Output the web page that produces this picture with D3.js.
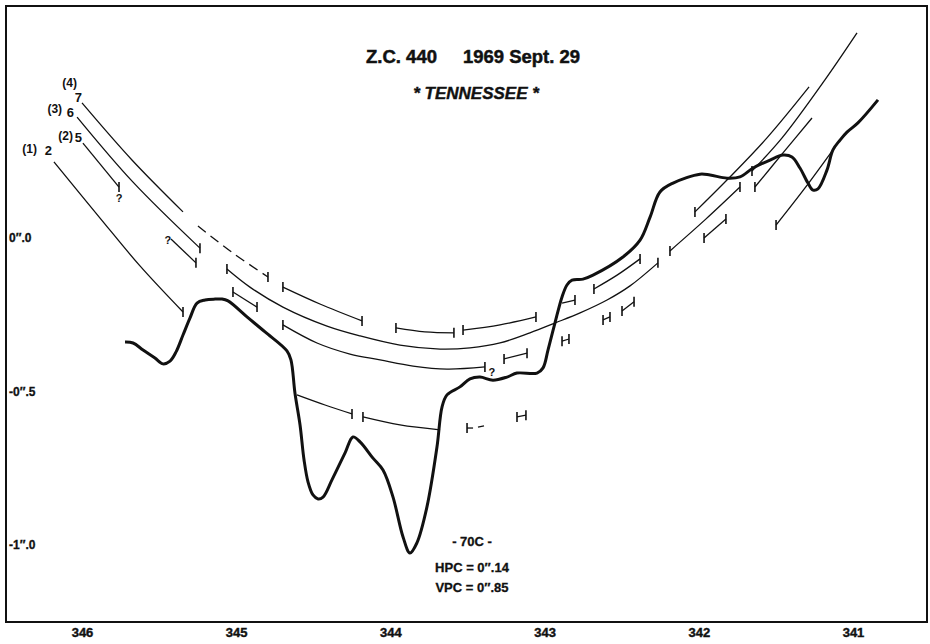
<!DOCTYPE html>
<html><head><meta charset="utf-8">
<script src="https://cdn.jsdelivr.net/npm/d3@7"></script>
<style>
html,body{margin:0;padding:0;background:#fff;}
svg{display:block;}
text{font-family:"Liberation Sans Narrow","Liberation Sans",Arial,sans-serif;font-weight:bold;fill:#111;}
</style></head><body>
<svg id="c" width="930" height="644"></svg>
<script>
// ---- data ----
const xTicks = [346, 345, 344, 343, 342, 341];
const yTicks = [0, -0.5, -1];
const yTickLabels = ["0″.0", "-0″.5", "-1″.0"];
const titleLine1a = "Z.C. 440";
const titleLine1b = "1969 Sept. 29";
const titleLine2 = "* TENNESSEE *";
const noteLines = ["- 70C -", "HPC = 0″.14", "VPC = 0″.85"];
const chordNumbers = ["2", "5", "6", "7"];
const observerLabels = ["(1)", "(2)", "(3)", "(4)"];

// lunar limb profile [watts angle, arcsec]
const limbProfile = [
[345.721,-0.339],[345.669,-0.342],[345.604,-0.365],[345.527,-0.391],[345.475,-0.410],[345.429,-0.401],[345.390,-0.371],[345.345,-0.316],[345.300,-0.261],[345.254,-0.212],[345.202,-0.202],[345.137,-0.199],[345.092,-0.199],[345.053,-0.205],[344.930,-0.257],[344.813,-0.306],[344.671,-0.368],[344.645,-0.397],[344.619,-0.505],[344.586,-0.609],[344.560,-0.723],[344.534,-0.795],[344.502,-0.837],[344.469,-0.850],[344.437,-0.844],[344.379,-0.788],[344.294,-0.700],[344.243,-0.648],[344.197,-0.664],[344.113,-0.717],[344.048,-0.756],[343.983,-0.844],[343.918,-0.974],[343.873,-1.026],[343.828,-0.993],[343.763,-0.876],[343.698,-0.681],[343.665,-0.550],[343.633,-0.511],[343.549,-0.485],[343.484,-0.459],[343.419,-0.453],[343.335,-0.463],[343.244,-0.453],[343.179,-0.440],[343.049,-0.440],[343.010,-0.423],[342.978,-0.365],[342.933,-0.277],[342.887,-0.192],[342.855,-0.153],[342.822,-0.137],[342.751,-0.134],[342.686,-0.121],[342.492,-0.062],[342.381,-0.007],[342.316,0.068],[342.252,0.150],[342.167,0.179],[341.992,0.208],[341.927,0.205],[341.817,0.195],[341.733,0.199],[341.648,0.228],[341.538,0.254],[341.454,0.270],[341.396,0.264],[341.344,0.228],[341.292,0.179],[341.259,0.156],[341.227,0.160],[341.169,0.221],[341.130,0.287],[341.084,0.319],[341.039,0.345],[340.968,0.375],[340.838,0.450]
];

// observer chords: pieces of [watts angle, arcsec]; t0/t1 = event tick at start/end
const chord1 = [
 {pts:[[346.182,0.248],[345.883,0.065],[345.624,-0.091],[345.345,-0.241]], t0:0, t1:1},
 {pts:[[344.606,-0.511],[344.424,-0.544],[344.249,-0.573]], t0:0, t1:1},
 {pts:[[344.178,-0.583],[343.938,-0.609],[343.678,-0.625]], t0:1, t1:0},
 {pts:[[343.503,-0.619],[343.464,-0.619]], t0:1, t1:0},
 {pts:[[343.432,-0.616],[343.393,-0.612]], t0:0, t1:0},
 {pts:[[343.179,-0.583],[343.121,-0.577]], t0:1, t1:1},
 {pts:[[341.499,0.042],[341.311,0.163],[341.130,0.287]], t0:1, t1:0}
];
const chord2 = [
 {pts:[[345.994,0.309],[345.760,0.166]], t0:0, t1:1},
 {pts:[[345.423,-0.003],[345.261,-0.081]], t0:0, t1:1},
 {pts:[[345.021,-0.176],[344.865,-0.225]], t0:1, t1:1},
 {pts:[[344.697,-0.283],[344.476,-0.342],[344.262,-0.378],[344.067,-0.397],[343.853,-0.417],[343.633,-0.427],[343.387,-0.420]], t0:1, t1:1},
 {pts:[[343.263,-0.394],[343.114,-0.375]], t0:1, t1:1},
 {pts:[[342.887,-0.336],[342.842,-0.329]], t0:1, t1:1},
 {pts:[[342.621,-0.267],[342.576,-0.257]], t0:1, t1:1},
 {pts:[[342.498,-0.238],[342.420,-0.208]], t0:1, t1:1},
 {pts:[[341.966,0.000],[341.824,0.062]], t0:1, t1:1},
 {pts:[[341.636,0.166],[341.454,0.277],[341.266,0.391]], t0:1, t1:0}
];
const chord3 = [
 {pts:[[346.032,0.394],[345.669,0.182],[345.235,-0.033]], t0:0, t1:1},
 {pts:[[345.060,-0.101],[344.911,-0.160],[344.697,-0.225],[344.411,-0.287],[344.197,-0.319],[343.938,-0.349],[343.678,-0.362],[343.484,-0.358],[343.289,-0.342],[343.095,-0.309],[342.933,-0.277],[342.770,-0.244],[342.595,-0.202],[342.446,-0.156],[342.265,-0.081]], t0:1, t1:1},
 {pts:[[342.187,-0.042],[341.960,0.059],[341.733,0.166]], t0:1, t1:1},
 {pts:[[341.655,0.218],[341.460,0.326],[341.182,0.515],[340.974,0.668]], t0:1, t1:0}
];
const chord4 = [
 {pts:[[346.000,0.440],[345.676,0.254],[345.345,0.085]], t0:0, t1:0},
 {pts:[[344.697,-0.160],[344.457,-0.215],[344.184,-0.270]], t0:1, t1:1},
 {pts:[[343.964,-0.293],[343.776,-0.306],[343.588,-0.309]], t0:1, t1:1},
 {pts:[[343.529,-0.300],[343.289,-0.283],[343.056,-0.257]], t0:1, t1:1},
 {pts:[[342.887,-0.212],[342.803,-0.202]], t0:0, t1:1},
 {pts:[[342.680,-0.166],[342.530,-0.121],[342.381,-0.068]], t0:1, t1:1},
 {pts:[[342.025,0.085],[341.811,0.192],[341.558,0.326],[341.285,0.492]], t0:1, t1:0}
];
const chord4Uncertain = [
 {pts:[[345.248,0.039],[345.021,-0.049],[344.794,-0.127]], t0:0, t1:1}
];
// doubtful events "?"
const queryMarks = [[345.760,0.166],[343.387,-0.420],[345.423,-0.003]];

// ---- drawing ----
const svg = d3.select("#c");
const x = d3.scaleLinear().domain([346, 341]).range([82, 853]);
const y = d3.scaleLinear().domain([0, -1]).range([238, 545]);

svg.append("rect").attr("x",6).attr("y",6).attr("width",921).attr("height",616)
  .attr("fill","none").attr("stroke","#111").attr("stroke-width",2);

// axes
const gx = svg.append("g").attr("transform","translate(0,622)")
  .call(d3.axisBottom(x).tickValues(xTicks).tickSize(0).tickPadding(6).tickFormat(d3.format("d")));
gx.select(".domain").remove();
gx.selectAll("text").style("font-size","13px").style("font-family",null)
  .attr("fill","#111").attr("stroke","#111").attr("stroke-width",0.4);

const gy = svg.append("g").attr("transform","translate(9,0)")
  .call(d3.axisRight(y).tickValues(yTicks).tickSize(0).tickPadding(0).tickFormat((d,i)=>yTickLabels[i]));
gy.select(".domain").remove();
gy.selectAll("text").style("font-size","12px").style("font-family",null)
  .attr("fill","#111").attr("stroke","#111").attr("stroke-width",0.3);

const line = d3.line().x(d=>x(d[0])).y(d=>y(d[1])).curve(d3.curveCatmullRom.alpha(0.5));

function drawChord(pieces, dashed){
  const g = svg.append("g").attr("fill","none").attr("stroke","#111").attr("stroke-width",1.3);
  pieces.forEach(p=>{
    g.append("path").attr("d", line(p.pts)).attr("stroke-dasharray", dashed ? "10,6" : null);
    const tk = (pt)=>g.append("line").attr("x1",x(pt[0])).attr("x2",x(pt[0]))
       .attr("y1",y(pt[1])-5).attr("y2",y(pt[1])+5).attr("stroke-width",1.6);
    if(p.t0) tk(p.pts[0]);
    if(p.t1) tk(p.pts[p.pts.length-1]);
  });
}
[chord1, chord2, chord3, chord4].forEach(c=>drawChord(c,false));
drawChord(chord4Uncertain, true);

svg.append("path").attr("d", line(limbProfile)).attr("fill","none")
  .attr("stroke","#111").attr("stroke-width",3).attr("stroke-linejoin","round");

// query marks
const qOff = [[0,15],[7,9],[-3,5]];
queryMarks.forEach((q,i)=>{
  svg.append("text").attr("x",x(q[0])+qOff[i][0]).attr("y",y(q[1])+qOff[i][1])
    .attr("text-anchor","middle").style("font-size","11px").text("?");
});

// chord labels
const chords = [chord1, chord2, chord3, chord4];
const numOff = [[-2,-7],[-1,-1],[-3,0],[0,-1]];
const obsOff = [[-17,-9],[-10,-3],[-15,-4],[-5,-16]];
chords.forEach((c,i)=>{
  const p = c[0].pts[0];
  svg.append("text").attr("x",x(p[0])+numOff[i][0]).attr("y",y(p[1])+numOff[i][1])
    .attr("text-anchor","end").style("font-size","13px").text(chordNumbers[i]);
  svg.append("text").attr("x",x(p[0])+obsOff[i][0]).attr("y",y(p[1])+obsOff[i][1])
    .attr("text-anchor","end").style("font-size","12px").text(observerLabels[i]);
});

// titles
svg.append("text").attr("x",366).attr("y",63).attr("textLength",71).attr("lengthAdjust","spacingAndGlyphs")
  .attr("stroke","#111").attr("stroke-width",0.5).style("font-size","19px").text(titleLine1a);
svg.append("text").attr("x",463).attr("y",63).attr("textLength",117).attr("lengthAdjust","spacingAndGlyphs")
  .attr("stroke","#111").attr("stroke-width",0.5).style("font-size","19px").text(titleLine1b);
svg.append("text").attr("x",476).attr("y",99).attr("text-anchor","middle")
  .attr("stroke","#111").attr("stroke-width",0.4)
  .style("font-size","17px").style("font-style","italic").text(titleLine2);

// notes
const noteY = [546, 572, 592];
noteLines.forEach((t,i)=>{
  svg.append("text").attr("x",472).attr("y",noteY[i]).attr("text-anchor","middle")
    .attr("stroke","#111").attr("stroke-width",0.3)
    .style("font-size","13px").text(t);
});
</script>
</body></html>
